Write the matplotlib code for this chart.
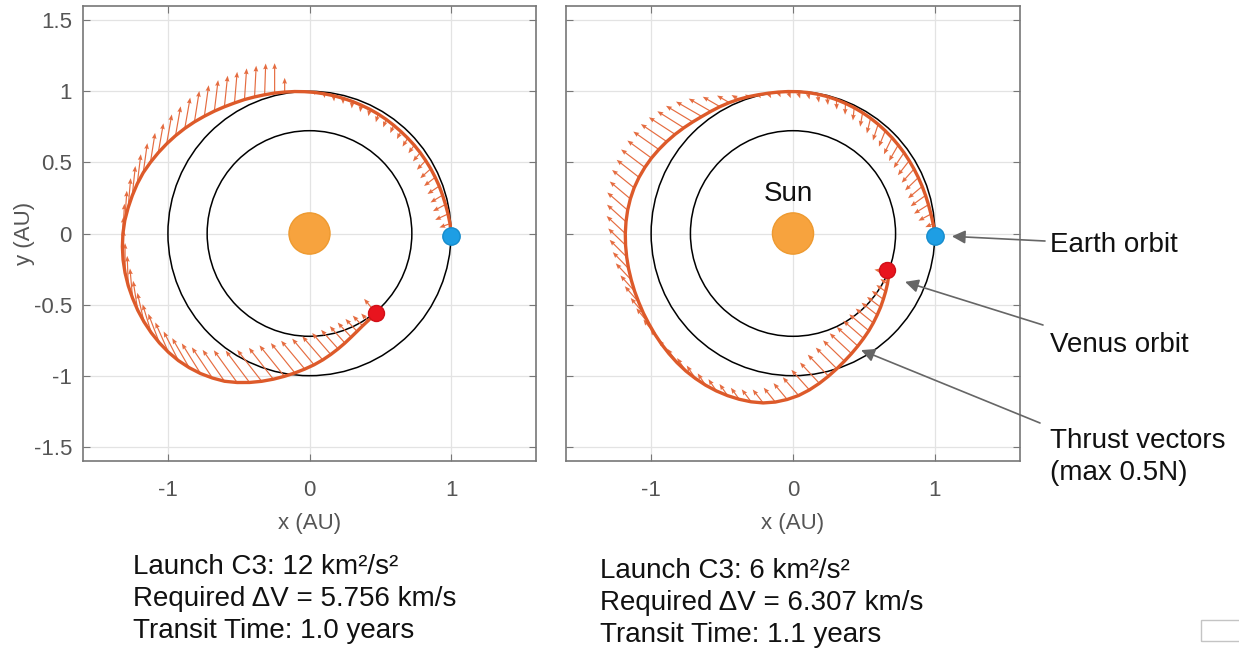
import numpy as np
import matplotlib.pyplot as plt
from matplotlib.patches import Circle, Rectangle

plt.rcParams['font.family'] = ['Liberation Sans', 'DejaVu Sans']

# orbit radii (AU)
earth_r = 1.0
venus_r = 0.723

# ---- left case: trajectory in polar form (deg, AU) and thrust (length AU, direction deg)
theta_l = [0, 4, 8, 12, 16, 20, 24, 28, 32, 36,
           40, 44, 48, 52, 56, 60, 64, 68, 72, 76,
           80, 84, 88, 92, 96, 100, 104, 108, 112, 116,
           120, 124, 128, 132, 136, 140, 144, 148, 152, 156,
           160, 164, 168, 172, 176, 180, 184, 188, 192, 196,
           200, 204, 208, 212, 216, 220, 224, 228, 232, 236,
           240, 244, 248, 252, 256, 260, 264, 268, 272, 276,
           280, 284, 288, 292, 296, 300, 304, 308, 310]
r_l = [1.000, 0.995, 0.988, 0.982, 0.978, 0.975, 0.972, 0.970, 0.968, 0.967,
       0.966, 0.965, 0.965, 0.966, 0.968, 0.970, 0.972, 0.974, 0.977, 0.980,
       0.984, 0.988, 0.993, 0.998, 1.004, 1.010, 1.018, 1.026, 1.036, 1.048,
       1.060, 1.075, 1.092, 1.110, 1.130, 1.150, 1.170, 1.190, 1.210, 1.230,
       1.250, 1.266, 1.280, 1.294, 1.308, 1.318, 1.325, 1.330, 1.332, 1.332,
       1.330, 1.328, 1.324, 1.318, 1.310, 1.300, 1.287, 1.270, 1.250, 1.226,
       1.200, 1.166, 1.130, 1.093, 1.056, 1.020, 0.986, 0.954, 0.924, 0.894,
       0.864, 0.836, 0.810, 0.786, 0.766, 0.750, 0.740, 0.733, 0.730]
thrust_len_l = [0.06, 0.08, 0.10, 0.10, 0.10, 0.10, 0.10, 0.10, 0.09, 0.08,
                0.07, 0.07, 0.06, 0.06, 0.06, 0.06, 0.05, 0.05, 0.05, 0.04,
                0.04, 0.03, 0.02, 0.00, 0.00, 0.10, 0.21, 0.22, 0.22, 0.22,
                0.22, 0.22, 0.22, 0.22, 0.22, 0.22, 0.21, 0.21, 0.21, 0.21,
                0.21, 0.21, 0.21, 0.21, 0.21, 0.21, 0.21, 0.21, 0.21, 0.21,
                0.21, 0.21, 0.21, 0.21, 0.22, 0.23, 0.23, 0.24, 0.25, 0.26,
                0.27, 0.28, 0.28, 0.28, 0.28, 0.28, 0.27, 0.26, 0.24, 0.22,
                0.20, 0.18, 0.16, 0.14, 0.12, 0.10, 0.07, 0.05, 0.13]
thrust_dir_l = [0, 200, 205, 208, 211, 214, 218, 222, 226, 230,
                234, 238, 242, 246, 250, 254, 258, 262, 266, 270,
                274, 278, 282, 90, 90, 90, 90, 88, 87, 86,
                85, 84, 83, 82, 81, 80, 80, 80, 80, 81,
                82, 83, 84, 85, 86, 87, 88, 89, 90, 92,
                95, 99, 103, 107, 111, 114, 117, 120, 122, 124,
                125, 126, 127, 128, 128, 129, 129, 130, 130, 131,
                131, 132, 132, 133, 133, 134, 134, 135, 130]

# ---- right case
theta_r = [0, 4, 8, 12, 16, 20, 24, 28, 32, 36,
           40, 44, 48, 52, 56, 60, 64, 68, 72, 76,
           80, 84, 88, 92, 96, 100, 104, 108, 112, 116,
           120, 124, 128, 132, 136, 140, 144, 148, 152, 156,
           160, 164, 168, 172, 176, 180, 184, 188, 192, 196,
           200, 204, 208, 212, 216, 220, 224, 228, 232, 236,
           240, 244, 248, 252, 256, 260, 264, 268, 272, 276,
           280, 284, 288, 292, 296, 300, 304, 308, 312, 316,
           320, 324, 328, 332, 336, 338]
r_r = [1.000, 0.990, 0.982, 0.976, 0.972, 0.969, 0.967, 0.966, 0.966, 0.967,
       0.968, 0.970, 0.972, 0.975, 0.978, 0.981, 0.984, 0.987, 0.990, 0.993,
       0.995, 0.997, 0.998, 0.999, 1.000, 1.002, 1.006, 1.012, 1.018, 1.024,
       1.030, 1.036, 1.044, 1.056, 1.070, 1.085, 1.100, 1.115, 1.130, 1.143,
       1.155, 1.165, 1.172, 1.177, 1.180, 1.182, 1.183, 1.184, 1.185, 1.186,
       1.188, 1.190, 1.194, 1.198, 1.204, 1.210, 1.216, 1.222, 1.227, 1.230,
       1.232, 1.232, 1.230, 1.226, 1.220, 1.210, 1.192, 1.168, 1.140, 1.106,
       1.070, 1.034, 1.000, 0.968, 0.940, 0.914, 0.890, 0.868, 0.846, 0.825,
       0.806, 0.787, 0.770, 0.754, 0.738, 0.725]
thrust_len_r = [0.03, 0.06, 0.10, 0.12, 0.13, 0.13, 0.13, 0.13, 0.13, 0.13,
                0.13, 0.13, 0.12, 0.12, 0.11, 0.10, 0.09, 0.08, 0.07, 0.06,
                0.06, 0.05, 0.05, 0.05, 0.04, 0.04, 0.03, 0.03, 0.06, 0.10,
                0.14, 0.18, 0.21, 0.22, 0.22, 0.22, 0.22, 0.22, 0.21, 0.21,
                0.20, 0.20, 0.19, 0.19, 0.18, 0.18, 0.17, 0.17, 0.16, 0.16,
                0.15, 0.15, 0.14, 0.14, 0.13, 0.13, 0.12, 0.12, 0.11, 0.11,
                0.10, 0.10, 0.10, 0.10, 0.11, 0.12, 0.13, 0.15, 0.17, 0.19,
                0.20, 0.21, 0.21, 0.21, 0.21, 0.20, 0.19, 0.18, 0.16, 0.14,
                0.12, 0.10, 0.08, 0.06, 0.04, 0.10]
thrust_dir_r = [180, 204, 208, 212, 216, 220, 224, 228, 232, 236,
                240, 244, 248, 252, 256, 260, 264, 268, 272, 276,
                280, 284, 288, 292, 296, 300, 304, 150, 150, 150,
                150, 150, 150, 149, 148, 147, 146, 145, 144, 143,
                142, 141, 140, 139, 138, 137, 136, 135, 134, 133,
                132, 131, 130, 129, 128, 127, 126, 125, 124, 124,
                124, 124, 125, 126, 127, 128, 129, 130, 131, 132,
                133, 134, 135, 136, 137, 138, 139, 140, 141, 142,
                143, 144, 145, 146, 148, 170]

earth_pos = (1.0, -0.02)
venus_pos_l = (0.47, -0.56)
venus_pos_r = (0.665, -0.26)

captions = [["Launch C3: 12 km²/s²", "Required ΔV = 5.756 km/s", "Transit Time: 1.0 years"],
            ["Launch C3: 6 km²/s²", "Required ΔV = 6.307 km/s", "Transit Time: 1.1 years"]]

traj_col = '#DD5A2A'
arrow_col = '#E56C40'
grey = '#555555'


def to_xy(theta, r):
    t = np.radians(theta)
    r = np.asarray(r)
    return r * np.cos(t), r * np.sin(t)


def draw_case(ax, theta, r, tlen, tdir, venus_pos, show_y):
    ax.set_xlim(-1.6, 1.6)
    ax.set_ylim(-1.6, 1.6)
    ax.grid(True, color='#e3e3e3', lw=0.9)
    ax.set_axisbelow(True)
    for s in ax.spines.values():
        s.set_color('#777777')
        s.set_linewidth(1.2)
    ax.set_xticks([-1, 0, 1])
    ax.set_xticklabels(['-1', '0', '1'])
    ax.set_yticks([-1.5, -1, -0.5, 0, 0.5, 1, 1.5])
    ax.set_yticklabels(['-1.5', '-1', '-0.5', '0', '0.5', '1', '1.5'])
    ax.tick_params(direction='in', length=5, top=True, right=True,
                   colors='#777777', labelcolor=grey, labelsize=16)
    ax.tick_params(axis='x', pad=14)
    ax.tick_params(axis='y', pad=8, labelleft=show_y)

    ax.add_patch(Circle((0, 0), earth_r, fill=False, ec='k', lw=1.1, zorder=2))
    ax.add_patch(Circle((0, 0), venus_r, fill=False, ec='k', lw=1.1, zorder=2))
    ax.add_patch(Circle((0, 0), 0.145, fc='#F7A33E', ec='#EE9A30', lw=1, zorder=2))

    x, y = to_xy(theta, r)
    u, v = to_xy(tdir, tlen)
    ax.quiver(x, y, u, v, angles='xy', scale_units='xy', scale=1,
              color=arrow_col, width=0.0026, headwidth=4, headlength=5,
              headaxislength=4.5, zorder=3)
    ax.plot(x, y, color=traj_col, lw=2.4, zorder=4)
    ax.plot(*earth_pos, 'o', ms=12.5, mfc='#1E9EE4', mec='#168ccc', zorder=5)
    ax.plot(*venus_pos, 'o', ms=11.5, mfc='#E8141E', mec='#d01018', zorder=5)

    ax.set_xlabel('x (AU)', fontsize=16, color=grey)
    ax.xaxis.set_label_coords(0.5, -0.115)
    if show_y:
        ax.set_ylabel('y (AU)', fontsize=16, color=grey)
        ax.yaxis.set_label_coords(-0.105, 0.5)


fig = plt.figure(figsize=(12.39, 6.51), dpi=100)
ax1 = fig.add_axes([83 / 1239, 1 - 461 / 651, 453 / 1239, 455 / 651])
ax2 = fig.add_axes([566 / 1239, 1 - 461 / 651, 454 / 1239, 455 / 651])

draw_case(ax1, theta_l, r_l, thrust_len_l, thrust_dir_l, venus_pos_l, True)
draw_case(ax2, theta_r, r_r, thrust_len_r, thrust_dir_r, venus_pos_r, False)

ax2.text(-0.03, 0.28, 'Sun', fontsize=20, ha='center', va='center', color='#111111')

# callouts on the right
notes = [('Earth orbit', 245, (1045, 241), (1.12, -0.02)),
         ('Venus orbit', 345, (1043, 325), (0.79, -0.34)),
         ('Thrust vectors\n(max 0.5N)', 457, (1040, 423), (0.48, -0.82))]
for label, ty, tail, head in notes:
    fig.text(1050 / 1239, 1 - ty / 651, label, fontsize=20, ha='left', va='center',
             color='#111111', linespacing=1.3)
    ax2.annotate('', xy=head, xycoords='data',
                 xytext=(tail[0] / 1239, 1 - tail[1] / 651), textcoords='figure fraction',
                 arrowprops=dict(arrowstyle='-|>', color='#666666', lw=1.2,
                                 mutation_scale=20, shrinkA=0, shrinkB=0),
                 annotation_clip=False)

# parameter captions under each plot
for left, mid, lines in zip([133, 600], [599, 603], captions):
    fig.text(left / 1239, 1 - mid / 651, '\n'.join(lines),
             fontsize=20, ha='left', va='center', color='#111111', linespacing=1.32)

fig.patches.append(Rectangle((1201 / 1239, 1 - 641 / 651), 40 / 1239, 21 / 651,
                             transform=fig.transFigure, fill=False,
                             ec='#c4c4c4', lw=1))

fig.savefig('out.png', dpi=100)
